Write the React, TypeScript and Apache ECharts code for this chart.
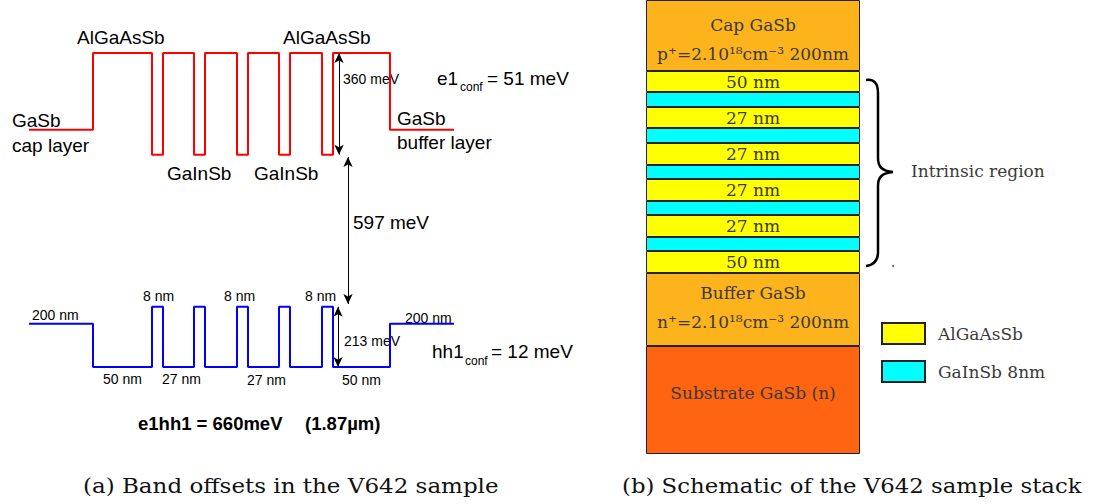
import React, { useEffect, useRef } from 'react';
import * as echarts from 'echarts';

// ---- (a) Band diagram data (display widths of layers, energies in meV) ----
const bandLayers = ['GaSb cap', 'AlGaAsSb', 'GaInSb', 'AlGaAsSb', 'GaInSb', 'AlGaAsSb', 'GaInSb', 'AlGaAsSb', 'GaInSb', 'AlGaAsSb', 'GaInSb', 'AlGaAsSb', 'GaSb buffer'];
const bandLayerWidths = [64, 59, 11, 31, 11, 32, 11, 31, 11, 32, 11, 57, 64];
const conductionBand = [626, 898, 538, 898, 538, 898, 538, 898, 538, 898, 538, 898, 626];
const valenceBand = [-60, -213, 0, -213, 0, -213, 0, -213, 0, -213, 0, -213, -60];
// offset arrows: [x, from, to]
const offsetArrows: [number, number, number][] = [
  [310, 898, 538],
  [319, 530, 10],
  [309, 0, -213],
];

// ---- (b) Stack schematic data (display heights) ----
const stackNames = ['Cap GaSb', 'AlGaAsSb', 'GaInSb 8nm', 'AlGaAsSb', 'GaInSb 8nm', 'AlGaAsSb', 'GaInSb 8nm', 'AlGaAsSb', 'GaInSb 8nm', 'AlGaAsSb', 'GaInSb 8nm', 'AlGaAsSb', 'Buffer GaSb', 'Substrate GaSb (n)'];
const stackHeights = [71, 21, 15, 21, 15, 22, 14, 22, 14, 22, 14, 22, 73, 108];
const stackLabels = [
  'Cap GaSb\np⁺=2.10¹⁸cm⁻³ 200nm', '50 nm', '', '27 nm', '', '27 nm', '', '27 nm', '', '27 nm', '', '50 nm',
  'Buffer GaSb\nn⁺=2.10¹⁸cm⁻³ 200nm', 'Substrate GaSb (n)',
];
const stackLabelOffsets = [4, 0, 0, 0, 0, 0, 0, 0, 0, 0, 0, 0, -2, -7];
const materialColors: Record<string, string> = {
  'Cap GaSb': '#fdb31b',
  'AlGaAsSb': '#ffff00',
  'GaInSb 8nm': '#00ffff',
  'Buffer GaSb': '#fdb31b',
  'Substrate GaSb (n)': '#ff6410',
};
const legendItems = ['AlGaAsSb', 'GaInSb 8nm'];

const SANS = 'Liberation Sans';
const SERIF = 'DejaVu Serif';

function stepPoints(energies: number[]) {
  const pts: [number, number][] = [];
  let x = 0;
  bandLayerWidths.forEach((w, i) => {
    pts.push([x, energies[i]]);
    x += w;
    pts.push([x, energies[i]]);
  });
  return pts;
}

function txt(text: string, x: number, y: number, size: number, extra: any = {}, scaleX = 1) {
  return {
    type: 'text',
    x,
    y,
    scaleX,
    silent: true,
    style: {
      text,
      fontSize: size,
      fontFamily: SANS,
      fill: '#000',
      textAlign: 'left',
      textVerticalAlign: 'middle',
      align: 'left',
      verticalAlign: 'middle',
      ...extra,
    },
  };
}

const bracePath = 'M0,2 C8,1 12,5 12,15 L12,80 C12,89 16,93 27,94 C16,95 12,99 12,108 L12,174 C12,183 8,187 0,188';
echarts.graphic.registerShape('brace', echarts.graphic.extendPath(bracePath, {}) as any);

export default function App() {
  const ref = useRef<HTMLDivElement>(null);
  useEffect(() => {
    if (!ref.current) return;
    const chart = echarts.init(ref.current, null, { renderer: 'svg' });
    const totalWidth = bandLayerWidths.reduce((a, b) => a + b, 0);
    const totalStack = stackHeights.reduce((a, b) => a + b, 0);

    const barSeries = stackNames.map((name, i) => ({
      type: 'bar',
      name,
      xAxisIndex: 1,
      yAxisIndex: 1,
      stack: 'layers',
      barWidth: '100%',
      data: [stackHeights[i]],
      itemStyle: { color: materialColors[name], borderColor: '#222', borderWidth: 1 },
      label: {
        show: stackLabels[i] !== '',
        position: 'inside',
        formatter: stackLabels[i],
        color: '#3a3a3a',
        fontFamily: SERIF,
        fontSize: 17,
        lineHeight: 29,
        offset: [0, stackLabelOffsets[i]],
      },
      silent: true,
    }));

    const option: any = {
      animation: false,
      grid: [
        { left: 29, top: 53, width: 425, height: 314 },
        { left: 646, top: 0, width: 214, height: 454 },
      ],
      xAxis: [
        { type: 'value', gridIndex: 0, min: 0, max: totalWidth, show: false },
        { type: 'category', gridIndex: 1, data: ['stack'], show: false },
      ],
      yAxis: [
        { type: 'value', gridIndex: 0, min: -213, max: 898, show: false },
        { type: 'value', gridIndex: 1, min: 0, max: totalStack, inverse: true, show: false },
      ],
      legend: {
        data: legendItems,
        orient: 'vertical',
        left: 881,
        top: 322,
        padding: 0,
        itemWidth: 43,
        itemHeight: 21,
        itemGap: 15,
        icon: 'rect',
        selectedMode: false,
        textStyle: { fontFamily: SERIF, fontSize: 17, color: '#3a3a3a', padding: [0, 0, 0, 8] },
      },
      series: [
        {
          type: 'line',
          name: 'Conduction band',
          xAxisIndex: 0,
          yAxisIndex: 0,
          data: stepPoints(conductionBand),
          showSymbol: false,
          clip: false,
          silent: true,
          lineStyle: { color: '#ff0000', width: 2 },
          markLine: {
            silent: true,
            symbol: ['arrow', 'arrow'],
            symbolSize: [7, 10],
            label: { show: false },
            lineStyle: { color: '#000', width: 1, type: 'solid' },
            data: offsetArrows.map(([x, a, b]) => [{ coord: [x, a] }, { coord: [x, b] }]),
          },
        },
        {
          type: 'line',
          name: 'Valence band',
          xAxisIndex: 0,
          yAxisIndex: 0,
          data: stepPoints(valenceBand),
          showSymbol: false,
          clip: false,
          silent: true,
          lineStyle: { color: '#0000ff', width: 2 },
        },
        ...barSeries,
      ],
      graphic: [
        txt('AlGaAsSb', 77, 37, 19),
        txt('AlGaAsSb', 283, 37, 19),
        txt('GaSb', 12, 120, 19),
        txt('cap layer', 12, 145, 19),
        txt('GaInSb', 167, 173, 19),
        txt('GaInSb', 254, 173, 19),
        txt('360 meV', 343, 79, 14),
        txt('e1', 437, 78, 19),
        txt('conf', 460, 87, 12),
        txt('= 51 meV', 487, 78, 19),
        txt('GaSb', 397, 118, 19),
        txt('buffer layer', 397, 142, 19),
        txt('597 meV', 353, 222, 19),
        txt('200 nm', 32, 315, 14),
        txt('8 nm', 143, 296, 14),
        txt('8 nm', 224, 296, 14),
        txt('8 nm', 305, 296, 14),
        txt('50 nm', 103, 379, 14),
        txt('27 nm', 162, 379, 14),
        txt('27 nm', 247, 380, 14),
        txt('50 nm', 342, 380, 14),
        txt('213 meV', 344, 341, 14),
        txt('200 nm', 405, 318, 14),
        txt('hh1', 432, 351, 19),
        txt('conf', 465, 361, 12),
        txt('= 12 meV', 491, 351, 19),
        txt('e1hh1 = 660meV', 138, 423, 18.5, { fontWeight: 'bold' }),
        txt('(1.87µm)', 305, 423, 18.5, { fontWeight: 'bold' }),
        txt('(a) Band offsets in the V642 sample', 83, 486, 20, { fontFamily: SERIF, fill: '#111' }, 1.15),
        txt('(b) Schematic of the V642 sample stack', 622, 486, 20, { fontFamily: SERIF, fill: '#111' }, 1.14),
        txt('Intrinsic region', 911, 171, 17, { fontFamily: SERIF, fill: '#3a3a3a' }),
        {
          type: 'brace',
          x: 866,
          y: 78,
          silent: true,
          style: { stroke: '#000', lineWidth: 2.5, fill: 'none' },
        },
        { type: 'circle', shape: { cx: 893, cy: 266, r: 1 }, style: { fill: '#555' }, silent: true },
      ],
    };
    chart.setOption(option);
    return () => chart.dispose();
  }, []);
  return (
    <div
      ref={ref}
      style={{ position: 'fixed', left: 0, top: 0, width: 1098, height: 504, background: '#fff' }}
    />
  );
}
